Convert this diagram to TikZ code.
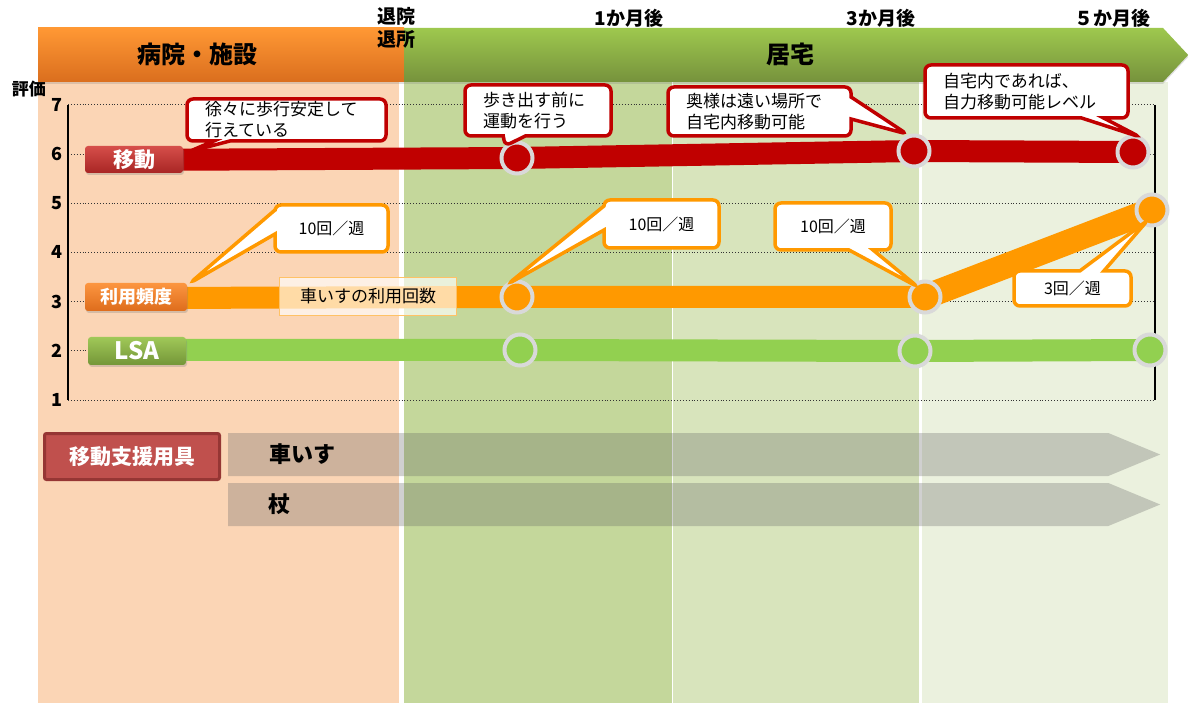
\documentclass[tikz,border=0pt]{standalone}
\usepackage{fontspec}
\setmainfont{Noto Sans CJK JP}
\usetikzlibrary{shapes.geometric, shapes.callouts, shapes.symbols, shadows, calc, positioning}
\definecolor{peach}{RGB}{251,213,181}
\definecolor{greenA}{RGB}{196,215,155}
\definecolor{greenB}{RGB}{216,228,188}
\definecolor{greenC}{RGB}{235,241,222}
\definecolor{hospTop}{RGB}{255,152,52}
\definecolor{hospBottom}{RGB}{218,110,30}
\definecolor{homeTop}{RGB}{158,200,78}
\definecolor{homeBottom}{RGB}{118,146,60}
\definecolor{moveRed}{RGB}{192,0,0}
\definecolor{freqOrange}{RGB}{255,153,0}
\definecolor{lsaGreen}{RGB}{146,208,80}
\definecolor{ringGray}{RGB}{217,217,217}
\definecolor{toolGray}{RGB}{95,95,95}
\definecolor{toolRed}{RGB}{192,80,77}
\definecolor{toolRedDark}{RGB}{150,54,52}
\tikzstyle{headbox} = [rectangle, minimum height=54pt, inner sep=0pt, drop shadow={opacity=0.25, shadow xshift=0pt, shadow yshift=-2pt}]
\tikzstyle{headtext} = [font=\fontsize{19}{23}\selectfont\bfseries, align=center, inner sep=0pt]
\tikzstyle{gridline} = [dotted, line width=0.9pt, black!80]
\tikzstyle{axis} = [line width=1.6pt, black]
\tikzstyle{ticklabel} = [font=\fontsize{18}{18}\selectfont\bfseries, inner sep=0pt, anchor=east]
\tikzstyle{series} = [line width=22pt, line join=round]
\tikzstyle{ring} = [circle, minimum size=31pt, inner sep=0pt, line width=4pt, draw=ringGray]
\tikzstyle{tag} = [rectangle, rounded corners=3pt, text=white, inner sep=0pt, font=\fontsize{18}{18}\selectfont\bfseries, drop shadow={opacity=0.3, shadow xshift=1pt, shadow yshift=-2pt}]
\tikzstyle{notebox} = [rectangle, fill=white, fill opacity=0.65, text opacity=1, draw=freqOrange!60, line width=1pt, minimum width=177pt, minimum height=38pt, font=\fontsize{17}{17}\selectfont]
\tikzstyle{redcall} = [rectangle callout, rounded corners=6pt, draw=moveRed, line width=3.5pt, fill=white, callout pointer width=22pt, font=\fontsize{17}{21}\selectfont, align=left, inner xsep=18pt, inner ysep=2pt]
\tikzstyle{orangecall} = [rectangle callout, rounded corners=6pt, draw=freqOrange, line width=3.5pt, fill=white, callout pointer width=24pt, font=\fontsize{16}{16}\selectfont, align=center, inner sep=0pt]
\tikzstyle{aidtag} = [rectangle, rounded corners=2pt, fill=toolRed, draw=toolRedDark, line width=3pt, text=white, minimum width=175pt, minimum height=46pt, font=\fontsize{21}{21}\selectfont\bfseries]
\tikzstyle{toolbar} = [signal, signal to=east, signal pointer angle=45, fill=toolGray, fill opacity=0.29, minimum height=43pt, inner sep=0pt, anchor=west]
\tikzstyle{tooltext} = [font=\fontsize{22}{22}\selectfont\bfseries, inner sep=0pt]
\begin{document}
\begin{tikzpicture}[x=1pt, y=-1pt, node distance=10pt]
	% page and period columns
	\useasboundingbox (0,0) rectangle (1192,703);
	\fill[white] (0,0) rectangle (1192,703);
	\fill[peach] (38,82) rectangle (399,703);
	\fill[greenA] (404,82) rectangle (672,703);
	\fill[greenB] (673,82) rectangle (919,703);
	\fill[greenC] (922,82) rectangle (1168,703);
	
	% header
	\node (HospitalHead) [headbox, minimum width=366pt, top color=hospTop, bottom color=hospBottom] at (221,55) {};
	\node (HomeHead) [headbox, signal, signal to=east, signal pointer angle=94, minimum width=784pt, top color=homeTop, bottom color=homeBottom, anchor=west] at (404,55) {};
	\node (HospitalText) [headtext, font=\fontsize{24}{24}\selectfont\bfseries] at (197,54) {病院・施設};
	\node (HomeText) [headtext, font=\fontsize{24}{24}\selectfont\bfseries] at (790,54) {居宅};
	
	% rating grid
	\foreach \v in {1,...,7} {
		\draw [gridline] (68,{400-(\v-1)*49.2}) -- (1155,{400-(\v-1)*49.2});
		\node (Tick\v) [ticklabel] at (63,{400-(\v-1)*49.2}) {\v};
	}
	\draw [axis] (68,105) -- (68,400);
	\draw [axis] (1155,105) -- (1155,400);
	
	% series
	\coordinate (MoveA) at (517,158);
	\coordinate (MoveB) at (914,151);
	\coordinate (MoveC) at (1133,152);
	\coordinate (FreqA) at (517,297);
	\coordinate (FreqB) at (925,297);
	\coordinate (FreqC) at (1152,210);
	\coordinate (LsaA) at (520,350);
	\coordinate (LsaB) at (915,351);
	\coordinate (LsaC) at (1150,350);
	\draw [series, moveRed] (134,160) -- (MoveA) -- (MoveB) -- (MoveC);
	\draw [series, freqOrange] (136,298) -- (FreqA) -- (FreqB);
	\draw [series, freqOrange, line width=25pt] (FreqB) -- (FreqC);
	\draw [series, lsaGreen] (137,350) -- (LsaA) -- (LsaB) -- (LsaC);
	\node (MoveDotA) [ring, fill=moveRed] at (MoveA) {};
	\node (MoveDotB) [ring, fill=moveRed] at (MoveB) {};
	\node (MoveDotC) [ring, fill=moveRed] at (MoveC) {};
	\node (FreqDotA) [ring, fill=freqOrange] at (FreqA) {};
	\node (FreqDotB) [ring, fill=freqOrange] at (FreqB) {};
	\node (FreqDotC) [ring, fill=freqOrange] at (FreqC) {};
	\node (LsaDotA) [ring, fill=lsaGreen] at (LsaA) {};
	\node (LsaDotB) [ring, fill=lsaGreen] at (LsaB) {};
	\node (LsaDotC) [ring, fill=lsaGreen] at (LsaC) {};
	
	% series tags
	\node (MoveTag) [tag, minimum width=98pt, minimum height=27pt, top color={rgb,255:red,214;green,78;blue,74}, bottom color={rgb,255:red,168;green,38;blue,36}, font=\fontsize{21}{21}\selectfont\bfseries] at (134,159.5) {移動};
	\node (FreqTag) [tag, minimum width=102pt, minimum height=28pt, top color={rgb,255:red,252;green,150;blue,64}, bottom color={rgb,255:red,222;green,108;blue,28}] at (136,297) {利用頻度};
	\node (LsaTag) [tag, minimum width=98pt, minimum height=28pt, top color={rgb,255:red,160;green,200;blue,88}, bottom color={rgb,255:red,116;green,150;blue,56}, font=\fontsize{24}{24}\selectfont\bfseries] at (137,351) {LSA};
	\node (UsageNote) [notebox] at (368,296.5) {車いすの利用回数};
	
	% callouts
	\coordinate (MoveTipA) at (188,152);
	\coordinate (MoveTipB) at (505,146);
	\coordinate (MoveTipC) at (907,134);
	\coordinate (MoveTipD) at (1140,137);
	\coordinate (FreqTipA) at (190,283);
	\coordinate (FreqTipB) at (508,284);
	\coordinate (FreqTipC) at (918,287);
	\coordinate (FreqTipD) at (1148,220);
	\node (NoteSteady) [redcall, text width=163pt, minimum height=42pt, callout absolute pointer=(MoveTipA), callout pointer width=16pt] at (286.5,120) {徐々に歩行安定して\\行えている};
	\node (NoteExercise) [redcall, text width=110pt, minimum height=51pt, callout absolute pointer=(MoveTipB)] at (538,110.5) {歩き出す前に\\運動を行う};
	\node (NoteWife) [redcall, text width=147pt, minimum height=49pt, callout absolute pointer=(MoveTipC)] at (759.5,111.5) {奥様は遠い場所で\\自宅内移動可能};
	\node (NoteSelf) [redcall, text width=167pt, minimum height=53pt, callout absolute pointer=(MoveTipD)] at (1026.5,91.5) {自宅内であれば、\\自力移動可能レベル};
	\node (WeekA) [orangecall, minimum width=113pt, minimum height=47pt, callout absolute pointer=(FreqTipA)] at (331.5,228.5) {10回／週};
	\node (WeekB) [orangecall, minimum width=115pt, minimum height=48pt, callout absolute pointer=(FreqTipB)] at (661.5,224) {10回／週};
	\node (WeekC) [orangecall, minimum width=116pt, minimum height=47pt, callout absolute pointer=(FreqTipC)] at (833,226.5) {10回／週};
	\node (WeekD) [orangecall, minimum width=117pt, minimum height=35pt, callout absolute pointer=(FreqTipD)] at (1072.5,288.5) {3回／週};
	
	% mobility aids
	\node (AidTag) [aidtag] at (132,456.5) {移動支援用具};
	\node (WheelchairBar) [toolbar, minimum width=932pt] at (228,454.5) {};
	\node (CaneBar) [toolbar, minimum width=932pt] at (228,504.5) {};
	\node (WheelchairText) [tooltext, right = 41pt of WheelchairBar.west] {車いす};
	\node (CaneText) [tooltext, right = 40pt of CaneBar.west] {杖};
	
	% time labels
	\node (DischargeText) [headtext] at (396,28) {退院\\退所};
	\node (MonthOne) [headtext] at (629,18) {1か月後};
	\node (MonthThree) [headtext] at (881,18) {3か月後};
	\node (MonthFive) [headtext] at (1112,18) {５か月後};
	\node (RatingText) [headtext, font=\fontsize{17}{17}\selectfont\bfseries] at (29,89) {評価};
\end{tikzpicture}
\end{document}
